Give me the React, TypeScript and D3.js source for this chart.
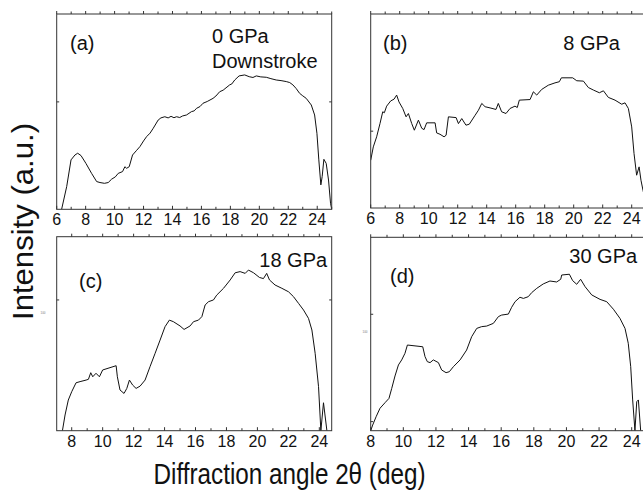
import React, { useEffect, useRef } from "react";
import * as d3 from "d3";

const W = 643;
const H = 492;

// (a) 0 GPa, downstroke
const thetaA = [6.34, 6.69, 6.99, 7.26, 7.45, 7.68, 8.02, 8.41, 8.76, 8.99, 9.3, 9.56, 9.79, 10.05, 10.25, 10.55, 10.71, 10.83, 11.01, 11.24, 11.5, 11.75, 12.0, 12.21, 12.45, 12.67, 13.01, 13.2, 13.47, 13.7, 13.9, 14.1, 14.28, 14.5, 14.7, 14.97, 15.31, 15.5, 15.66, 15.9, 16.11, 16.4, 16.8, 17.0, 17.26, 17.5, 17.95, 18.1, 18.3, 18.6, 18.99, 19.3, 19.56, 19.79, 20.1, 20.48, 20.8, 21.17, 21.5, 21.86, 22.1, 22.32, 22.55, 22.78, 23.0, 23.24, 23.59, 23.82, 23.98, 24.11, 24.25, 24.34, 24.46, 24.62, 24.78, 24.92, 25.0];
const intA = [0, 11.6, 25.3, 27.8, 28.7, 27.5, 23.5, 18.4, 14.2, 13.7, 13.3, 13.7, 15.4, 16.6, 18.4, 19.3, 21.8, 21.0, 21.8, 27.8, 30.0, 32.1, 35.0, 37.2, 39.0, 41.5, 45.7, 46.8, 47.4, 46.8, 47.6, 46.9, 47.4, 47.0, 47.8, 48.3, 50.0, 50.4, 51.7, 52.6, 54.3, 55.2, 56.8, 58.0, 60.2, 61.0, 63.7, 64.2, 66.2, 68.3, 68.8, 67.9, 67.5, 68.3, 67.8, 67.6, 66.9, 66.2, 65.9, 65.4, 64.9, 63.7, 61.8, 59.4, 58.1, 56.8, 53.4, 48.3, 38.9, 25.3, 12.5, 16.7, 25.6, 23.5, 15.0, 3.1, 0];

// (b) 8 GPa
const thetaB = [6.0, 6.18, 6.41, 6.64, 6.83, 6.94, 7.1, 7.38, 7.61, 7.79, 7.95, 8.21, 8.44, 8.6, 8.83, 9.01, 9.29, 9.52, 9.68, 9.86, 10.44, 10.55, 10.78, 11.06, 11.2, 11.36, 11.89, 12.05, 12.28, 12.57, 12.8, 13.2, 13.43, 13.66, 13.89, 14.23, 14.64, 14.8, 15.03, 15.33, 15.61, 15.95, 16.11, 16.25, 16.99, 17.22, 17.45, 17.79, 18.25, 18.71, 19.01, 19.15, 19.93, 20.21, 20.67, 21.01, 21.36, 21.77, 22.05, 22.39, 22.85, 23.31, 23.54, 23.77, 24.0, 24.16, 24.34, 24.51, 24.64, 24.78, 25.0];
const intB = [24.6, 31.5, 36.7, 43.5, 49.6, 49.1, 52.5, 55.2, 56.1, 58.2, 54.7, 51.3, 47.0, 48.7, 43.5, 40.1, 45.3, 41.1, 40.4, 43.9, 43.9, 38.7, 38.0, 36.7, 37.5, 47.0, 46.6, 43.5, 46.1, 42.7, 43.2, 47.8, 50.4, 53.9, 52.2, 51.6, 50.8, 53.9, 49.6, 48.7, 51.3, 52.5, 51.8, 55.6, 55.9, 59.9, 58.2, 61.1, 63.3, 64.5, 65.1, 67.1, 67.1, 65.6, 65.4, 62.1, 60.8, 59.4, 60.4, 57.0, 55.6, 53.5, 54.2, 51.3, 41.8, 28.1, 16.9, 21.2, 14.3, 9.1, 2.0];

// (c) 18 GPa
const thetaC = [7.4, 7.57, 7.78, 8.0, 8.28, 8.54, 8.93, 9.08, 9.23, 9.36, 9.57, 9.79, 10.0, 10.87, 10.95, 11.12, 11.38, 11.56, 11.73, 11.94, 12.16, 12.42, 12.74, 13.06, 13.39, 13.71, 14.03, 14.31, 14.57, 15.0, 15.26, 15.65, 15.87, 16.19, 16.41, 16.62, 16.84, 17.16, 17.37, 17.81, 18.24, 18.56, 18.88, 19.21, 19.42, 19.75, 20.13, 20.39, 20.6, 20.78, 21.14, 21.58, 22.01, 22.33, 22.66, 22.98, 23.3, 23.52, 23.73, 23.95, 24.1, 24.27, 24.49];
const intC = [0, 8.1, 15.8, 20.1, 24.7, 25.3, 26.1, 26.5, 29.9, 27.8, 29.6, 27.8, 31.3, 33.5, 27.8, 21.0, 19.2, 21.8, 26.1, 23.5, 21.8, 23.0, 26.1, 33.0, 39.9, 46.7, 53.6, 57.0, 56.2, 54.0, 52.2, 54.0, 56.2, 57.0, 58.8, 64.8, 66.5, 67.4, 69.9, 73.4, 77.7, 81.4, 82.0, 81.1, 82.8, 81.4, 79.0, 78.4, 81.1, 77.7, 75.1, 73.4, 71.6, 69.1, 65.6, 62.2, 57.9, 51.9, 39.9, 22.7, 0, 14.4, 0];

// (d) 30 GPa
const thetaD = [8.0, 8.12, 8.33, 8.57, 8.88, 9.12, 9.29, 9.49, 9.7, 9.9, 10.1, 10.25, 11.19, 11.33, 11.47, 11.64, 11.84, 12.15, 12.35, 12.62, 12.82, 13.07, 13.48, 13.88, 14.19, 14.5, 14.8, 15.11, 15.52, 15.83, 16.03, 16.44, 16.64, 16.85, 17.15, 17.36, 17.66, 17.87, 18.18, 18.58, 18.99, 19.4, 19.65, 19.71, 20.18, 20.38, 20.63, 20.87, 21.14, 21.55, 22.06, 22.47, 22.88, 23.28, 23.59, 23.79, 23.94, 24.06, 24.2, 24.31, 24.41, 24.55];
const intD = [0, 2.9, 7.2, 11.6, 14.5, 16.7, 21.9, 28.3, 34.0, 36.6, 40.0, 44.3, 43.4, 38.3, 35.7, 35.2, 36.6, 35.2, 31.4, 30.0, 30.5, 33.1, 36.6, 41.7, 48.6, 52.9, 53.8, 54.1, 55.5, 59.0, 59.8, 60.3, 63.8, 66.7, 69.0, 68.4, 69.3, 71.4, 73.6, 75.9, 77.4, 76.9, 78.3, 80.5, 80.9, 77.6, 75.7, 78.3, 74.5, 70.2, 67.9, 66.7, 62.8, 58.1, 52.9, 45.2, 33.1, 15.9, 0, 15.0, 15.9, 0];

const yTicksA = [55];
const yTicksB = [39.6];
const yTicksC = [67.4];
const yTicksD = [60.2, 4.7];

const tickLabelsA = [6, 8, 10, 12, 14, 16, 18, 20, 22, 24];
const tickLabelsC = [8, 10, 12, 14, 16, 18, 20, 22, 24];

const panels = [
  { id: "a", theta: thetaA, inten: intA, domain: [6, 25], box: [56.7, 331.7, 14, 209.3], yTicks: yTicksA, labels: tickLabelsA,
    tag: "(a)", tagAt: [70, 50], notes: [["0 GPa", 212, 43.3], ["Downstroke", 212, 68.3]], tiny: null },
  { id: "b", theta: thetaB, inten: intB, domain: [6, 25], box: [370.7, 646.2, 14, 208], yTicks: yTicksB, labels: tickLabelsA,
    tag: "(b)", tagAt: [383, 50], notes: [["8 GPa", 563.3, 50]], tiny: null },
  { id: "c", theta: thetaC, inten: intC, domain: [7.03, 24.8], box: [56.7, 331.7, 236.7, 430.7], yTicks: yTicksC, labels: tickLabelsC,
    tag: "(c)", tagAt: [79, 288], notes: [["18 GPa", 259.3, 266.7]], tiny: [40.5, 60.7] },
  { id: "d", theta: thetaD, inten: intD, domain: [8, 25], box: [370.7, 648, 237.3, 430.7], yTicks: yTicksD, labels: tickLabelsC,
    tag: "(d)", tagAt: [390, 283], notes: [["30 GPa", 569.3, 263.3]], tiny: [362.5, 51.2] },
];

const FONT = "'Liberation Sans', Arial, Helvetica, sans-serif";
const AXIS = "#333";

export default function App() {
  const ref = useRef<SVGSVGElement>(null);

  useEffect(() => {
    const svg = d3.select(ref.current);
    svg.selectAll("*").remove();
    svg.append("rect").attr("width", W).attr("height", H).attr("fill", "#fff");

    panels.forEach(p => {
      const [x0, x1, y0, y1] = p.box;
      const x = d3.scaleLinear().domain(p.domain).range([x0, x1]);
      const y = d3.scaleLinear().domain([0, 100]).range([y1, y0]);
      const g = svg.append("g");

      g.append("clipPath").attr("id", "clip-" + p.id)
        .append("rect").attr("x", x0).attr("y", y0).attr("width", x1 - x0).attr("height", y1 - y0);

      const pts = p.theta.map((t, i) => [t, p.inten[i]] as [number, number]);
      g.append("path")
        .datum(pts)
        .attr("clip-path", `url(#clip-${p.id})`)
        .attr("fill", "none")
        .attr("stroke", "#111")
        .attr("stroke-width", 1)
        .attr("stroke-linejoin", "round")
        .attr("d", d3.line<[number, number]>().x(d => x(d[0])).y(d => y(d[1])));

      // frame
      g.append("rect")
        .attr("x", x0).attr("y", y0).attr("width", x1 - x0).attr("height", y1 - y0)
        .attr("fill", "none").attr("stroke", AXIS).attr("stroke-width", 1);

      const ints = d3.range(Math.ceil(p.domain[0]), Math.floor(p.domain[1]) + 1);
      // bottom ticks point inward, top ticks point outward
      g.append("g").selectAll("line").data(ints).join("line")
        .attr("x1", d => x(d)).attr("x2", d => x(d))
        .attr("y1", y1).attr("y2", d => y1 - (d % 2 === 0 ? 3.5 : 2.5))
        .attr("stroke", AXIS);
      g.append("g").selectAll("line").data(ints).join("line")
        .attr("x1", d => x(d)).attr("x2", d => x(d))
        .attr("y1", y0).attr("y2", d => y0 - (d % 2 === 0 ? 3 : 2.5))
        .attr("stroke", AXIS);

      // y ticks on both sides, inward
      g.append("g").selectAll("line").data(p.yTicks).join("line")
        .attr("x1", x0).attr("x2", x0 + 2.5).attr("y1", d => y(d)).attr("y2", d => y(d))
        .attr("stroke", AXIS);
      g.append("g").selectAll("line").data(p.yTicks).join("line")
        .attr("x1", x1).attr("x2", x1 - 2.5).attr("y1", d => y(d)).attr("y2", d => y(d))
        .attr("stroke", AXIS);

      g.append("g").selectAll("text").data(p.labels).join("text")
        .attr("x", d => x(d)).attr("y", y1 + 16)
        .attr("text-anchor", "middle")
        .attr("font-family", FONT).attr("font-size", 16).attr("fill", "#111")
        .text(d => d);

      g.append("text").attr("x", p.tagAt[0]).attr("y", p.tagAt[1])
        .attr("font-family", FONT).attr("font-size", 20).attr("fill", "#111").text(p.tag);
      p.notes.forEach(n => {
        g.append("text").attr("x", n[1] as number).attr("y", n[2] as number)
          .attr("font-family", FONT).attr("font-size", 20).attr("fill", "#111").text(n[0] as string);
      });

      if (p.tiny) {
        g.append("text").attr("x", p.tiny[0]).attr("y", y(p.tiny[1]) + 1)
          .attr("font-family", FONT).attr("font-size", 3).attr("fill", "#777").text("100");
      }
    });

    svg.append("text")
      .attr("transform", "translate(33,221.5) rotate(-90)")
      .attr("text-anchor", "middle")
      .attr("font-family", FONT).attr("font-size", 29).attr("fill", "#111")
      .attr("textLength", 197).attr("lengthAdjust", "spacingAndGlyphs")
      .text("Intensity (a.u.)");

    svg.append("text")
      .attr("x", 289.5).attr("y", 483.5)
      .attr("text-anchor", "middle")
      .attr("font-family", FONT).attr("font-size", 29).attr("fill", "#111")
      .attr("textLength", 272).attr("lengthAdjust", "spacingAndGlyphs")
      .text("Diffraction angle 2θ (deg)");
  }, []);

  return (
    <svg ref={ref} width={W} height={H}
      style={{ position: "absolute", left: 0, top: 0, display: "block" }} />
  );
}
